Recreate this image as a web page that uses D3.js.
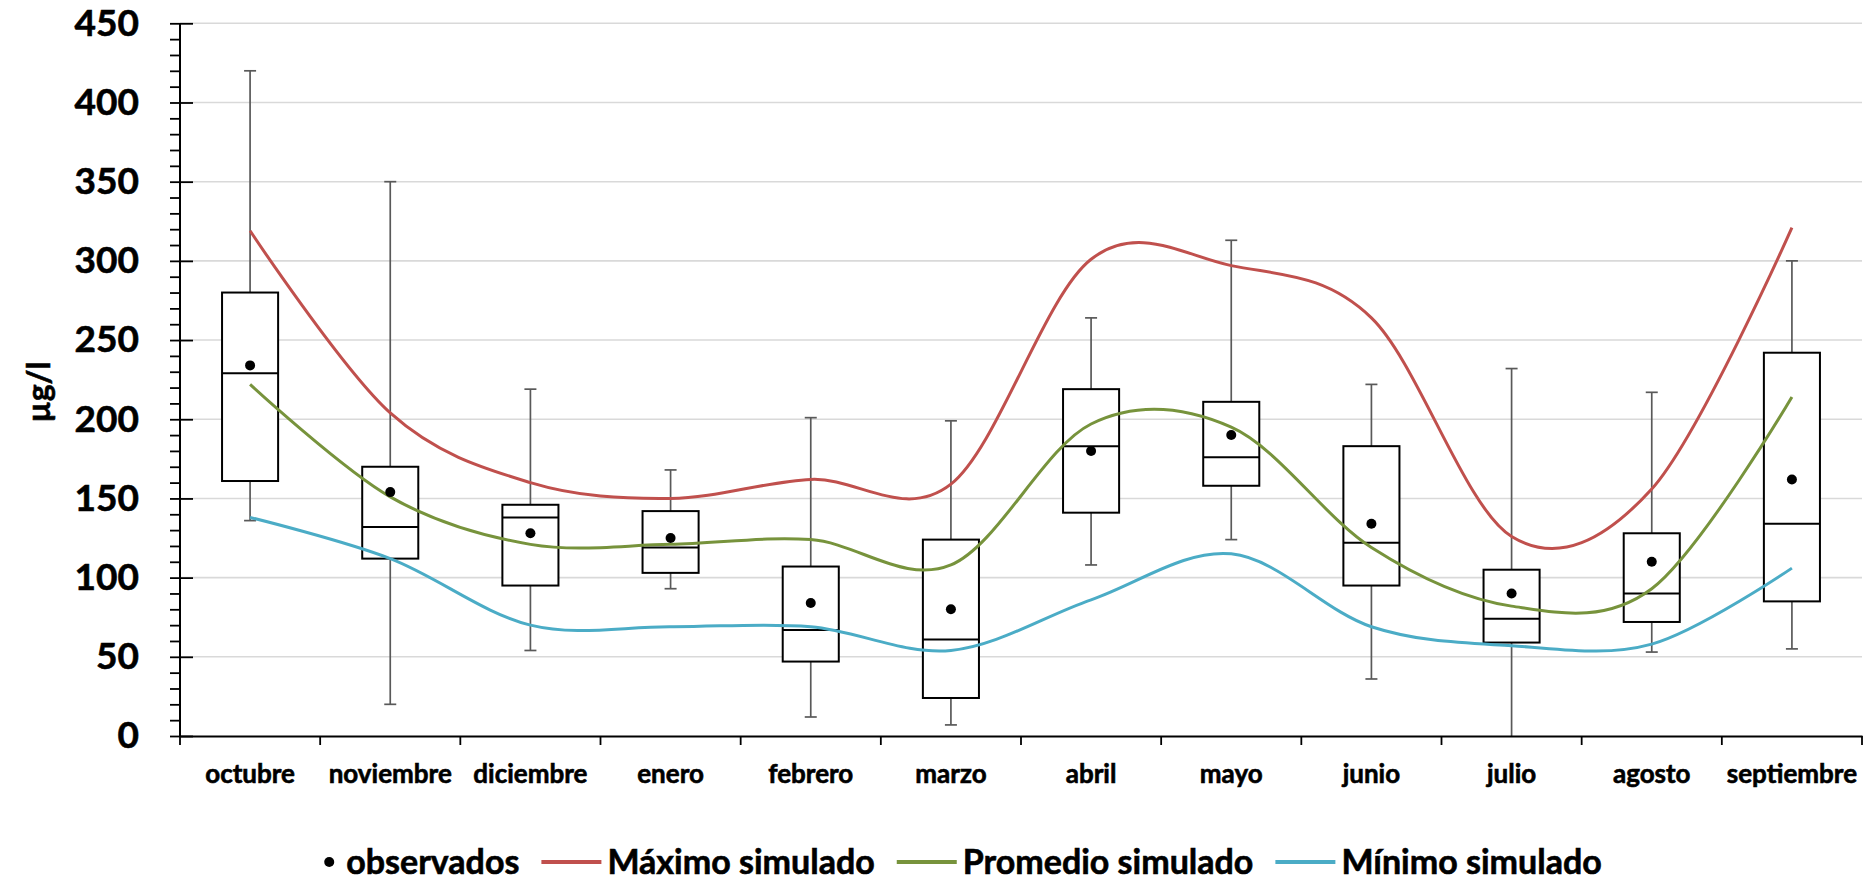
<!DOCTYPE html>
<html>
<head>
<meta charset="utf-8">
<script src="https://cdn.jsdelivr.net/npm/d3@7"></script>
<style>
  body { margin: 0; background: #fff; }
  svg { display: block; font-family: "Lato", sans-serif; font-weight: bold; }
  svg text { stroke: #000; stroke-width: 0.6px; }
</style>
</head>
<body>
<div id="chart"></div>
<script>
// months (hydrological year)
const months = ["octubre", "noviembre", "diciembre", "enero", "febrero", "marzo",
                "abril", "mayo", "junio", "julio", "agosto", "septiembre"];

// observed box plot stats (µg/l)
const whiskerHigh = [420, 350, 219, 168, 201, 199, 264, 313, 222, 232, 217, 300];
const q3          = [280, 170, 146, 142, 107, 124, 219, 211, 183, 105, 128, 242];
const median      = [229, 132, 138, 119,  67,  61, 183, 176, 122,  74,  90, 134];
const q1          = [161, 112,  95, 103,  47,  24, 141, 158,  95,  59,  72,  85];
const whiskerLow  = [136,  20,  54,  93,  12,   7, 108, 124,  36,   0,  53,  55];
const observed    = [234, 154, 128, 125,  84,  80, 180, 190, 134,  90, 110, 162];

// simulated series
const maxSim  = [319, 204, 160, 150, 162, 159, 301, 297, 264, 126, 156, 321];
const meanSim = [222, 151, 121, 121, 124, 108, 197, 195, 119,  82,  93, 214];
const minSim  = [138, 112,  70,  69,  69,  54,  86, 115,  69,  57,  58, 106];

const yMajor = d3.range(0, 451, 50);
const yMinor = d3.range(0, 451, 10);

const W = 1875, H = 886;
const margin = {top: 23.3, right: 13, bottom: 150, left: 180};

const svg = d3.select("#chart").append("svg")
    .attr("width", W)
    .attr("height", H);

const x = d3.scaleBand()
    .domain(months)
    .range([margin.left, W - margin.right])
    .paddingInner(0)
    .paddingOuter(0);

const y = d3.scaleLinear()
    .domain([0, 450])
    .range([H - margin.bottom, margin.top]);

const cx = m => x(m) + x.bandwidth() / 2;

// gridlines
svg.append("g")
    .selectAll("line")
    .data(yMajor.filter(d => d > 0))
    .join("line")
    .attr("x1", x.range()[0])
    .attr("x2", x.range()[1])
    .attr("y1", d => y(d))
    .attr("y2", d => y(d))
    .attr("stroke", "#d9d9d9")
    .attr("stroke-width", 1.6);

// boxes
const boxes = months.map((m, i) => ({
    m, hi: whiskerHigh[i], q3: q3[i], med: median[i], q1: q1[i], lo: whiskerLow[i]
}));
const bw = x.bandwidth() * 0.4;
const capW = 12;

const bg = svg.append("g");
const b = bg.selectAll("g").data(boxes).join("g");

b.append("line")
    .attr("x1", d => cx(d.m)).attr("x2", d => cx(d.m))
    .attr("y1", d => y(d.hi)).attr("y2", d => y(d.q3))
    .attr("stroke", "#595959").attr("stroke-width", 1.7);
b.append("line")
    .attr("x1", d => cx(d.m)).attr("x2", d => cx(d.m))
    .attr("y1", d => y(d.q1)).attr("y2", d => y(d.lo))
    .attr("stroke", "#595959").attr("stroke-width", 1.7);
b.append("line")
    .attr("x1", d => cx(d.m) - capW / 2).attr("x2", d => cx(d.m) + capW / 2)
    .attr("y1", d => y(d.hi)).attr("y2", d => y(d.hi))
    .attr("stroke", "#595959").attr("stroke-width", 1.7);
b.filter(d => d.lo > 0).append("line")
    .attr("x1", d => cx(d.m) - capW / 2).attr("x2", d => cx(d.m) + capW / 2)
    .attr("y1", d => y(d.lo)).attr("y2", d => y(d.lo))
    .attr("stroke", "#595959").attr("stroke-width", 1.7);
b.append("rect")
    .attr("x", d => cx(d.m) - bw / 2)
    .attr("width", bw)
    .attr("y", d => y(d.q3))
    .attr("height", d => y(d.q1) - y(d.q3))
    .attr("fill", "#fff")
    .attr("stroke", "#000")
    .attr("stroke-width", 2);
b.append("line")
    .attr("x1", d => cx(d.m) - bw / 2).attr("x2", d => cx(d.m) + bw / 2)
    .attr("y1", d => y(d.med)).attr("y2", d => y(d.med))
    .attr("stroke", "#000").attr("stroke-width", 2);

// simulated lines
const series = [
    {name: "Máximo simulado", values: maxSim, color: "#c0504d"},
    {name: "Promedio simulado", values: meanSim, color: "#77933c"},
    {name: "Mínimo simulado", values: minSim, color: "#4bacc6"}
];

const line = d3.line()
    .x((d, i) => cx(months[i]))
    .y(d => y(d))
    .curve(d3.curveCardinal.tension(0));

svg.append("g")
    .selectAll("path")
    .data(series)
    .join("path")
    .attr("d", d => line(d.values))
    .attr("fill", "none")
    .attr("stroke", d => d.color)
    .attr("stroke-width", 3);

// observed means
svg.append("g")
    .selectAll("circle")
    .data(observed)
    .join("circle")
    .attr("cx", (d, i) => cx(months[i]))
    .attr("cy", d => y(d))
    .attr("r", 5)
    .attr("fill", "#000");

// y axis
const yAxis = svg.append("g")
    .attr("transform", `translate(${margin.left},0)`)
    .call(d3.axisLeft(y)
        .tickValues(yMinor)
        .tickSize(10)
        .tickPadding(31)
        .tickFormat(d => d % 50 === 0 ? d : ""));
yAxis.select(".domain").attr("stroke", "#000").attr("stroke-width", 2)
    .attr("d", `M0,${y(450)}V${y(0)}`);
yAxis.selectAll(".tick line").attr("stroke", "#000").attr("stroke-width", 1.8);
yAxis.selectAll(".tick").filter(d => d % 50 === 0).select("line")
    .attr("x1", 13).attr("x2", -10);
yAxis.selectAll(".tick text")
    .attr("font-family", "Lato, sans-serif")
    .attr("font-weight", "bold")
    .attr("font-size", 37)
    .attr("fill", "#000");

// x axis
const xAxis = svg.append("g")
    .attr("transform", `translate(0,${y(0)})`)
    .call(d3.axisBottom(x).tickSize(0).tickPadding(29));
xAxis.select(".domain").attr("stroke", "#000").attr("stroke-width", 2);
xAxis.selectAll(".tick text")
    .attr("font-family", "Lato, sans-serif")
    .attr("font-weight", "bold")
    .attr("font-size", 26)
    .attr("fill", "#000");
xAxis.selectAll(".bound")
    .data(months.map(m => x(m)).concat([x.range()[1]]))
    .join("line")
    .attr("class", "bound")
    .attr("x1", d => d).attr("x2", d => d)
    .attr("y1", 0).attr("y2", 9)
    .attr("stroke", "#000").attr("stroke-width", 1.8);

// y title
svg.append("text")
    .attr("transform", `translate(37,392) rotate(-90)`)
    .attr("text-anchor", "middle")
    .attr("dominant-baseline", "central")
    .attr("font-size", 32)
    .text("µg/l");

// legend
const legendItems = [{name: "observados", type: "dot"}]
    .concat(series.map(s => ({name: s.name, type: "line", color: s.color})));
const legend = svg.append("g").attr("transform", "translate(0,862)");
let lx = 0;
legendItems.forEach((it, i) => {
    const g = legend.append("g").attr("transform", `translate(${lx},0)`);
    let off;
    if (it.type === "dot") {
        g.append("circle").attr("cx", 5).attr("cy", 0).attr("r", 5).attr("fill", "#000");
        off = 22;
    } else {
        g.append("line").attr("x1", 0).attr("x2", 60).attr("y1", 0).attr("y2", 0)
            .attr("stroke", it.color).attr("stroke-width", 4);
        off = 66;
    }
    const t = g.append("text")
        .attr("x", off)
        .attr("dy", "0.35em")
        .attr("font-size", 34)
        .text(it.name);
    lx += off + t.node().getComputedTextLength() + 22;
});
lx -= 22;
legend.attr("transform", `translate(${963 - lx / 2},862)`);
</script>
</body>
</html>
